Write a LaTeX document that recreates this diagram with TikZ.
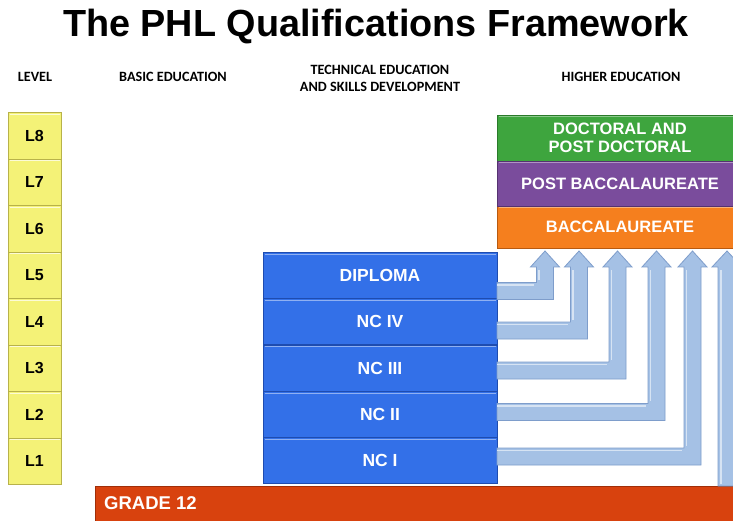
\documentclass[tikz,border=0pt]{standalone}
\usepackage{fontspec}
\setmainfont{Liberation Sans}
\newfontfamily\hdrfont{Carlito}
\usetikzlibrary{calc}
\definecolor{lvlfill}{HTML}{F4F277}
\definecolor{lvldraw}{HTML}{B8B24A}
\definecolor{bluefill}{HTML}{3370E8}
\definecolor{bluedraw}{HTML}{1E4CB0}
\definecolor{greenfill}{HTML}{3EA53E}
\definecolor{greendraw}{HTML}{2A7A2A}
\definecolor{purpfill}{HTML}{7A4C9C}
\definecolor{purpdraw}{HTML}{553270}
\definecolor{orgfill}{HTML}{F57F1E}
\definecolor{orgdraw}{HTML}{B85A10}
\definecolor{redfill}{HTML}{D8420E}
\definecolor{reddraw}{HTML}{A02E08}
\definecolor{arrfill}{HTML}{A5C1E5}
\definecolor{arrdraw}{HTML}{7E9DCB}
\tikzset{
  box/.style={rectangle, inner sep=0pt, outer sep=0pt, line width=0.8pt, font=\bfseries, align=center},
  lvl/.style={box, fill=lvlfill, draw=lvldraw, minimum width=53pt, minimum height=46.5pt, font=\bfseries\fontsize{16}{16}\selectfont},
  tech/.style={box, fill=bluefill, draw=bluedraw, text=white, minimum width=234pt, minimum height=46pt, font=\bfseries\fontsize{17.5}{17.5}\selectfont},
  higher/.style={box, text=white, minimum width=246pt, font=\bfseries\fontsize{16.5}{17.5}\selectfont},
  hdr/.style={font=\hdrfont\bfseries\fontsize{14.2}{17}\selectfont, align=center, inner sep=0pt},
  larrow/.style={fill=arrfill, draw=arrdraw, line width=0.8pt, line join=miter},
  hilite/.style={white!55!arrfill, line width=1.5pt},
}
\newcommand{\larr}[4]{% #1 source node, #2 horizontal centre y, #3 vertical centre x, #4 end node
  \path[larrow] (#1.east |- 0,#2-8.5) -- (#3-8.5,#2-8.5) -- (#3-8.5,267) -- (#3-14.5,267)
     -- ($(#4.south -| #3,0)+(0,3)$) -- (#3+14.5,267) -- (#3+8.5,267) -- (#3+8.5,#2+8.5)
     -- (#1.east |- 0,#2+8.5) -- cycle;
  \draw[hilite] (#1.east |- 0,#2-6) -- (#3-11,#2-6);
  \draw[hilite] (#3-6,#2-11) -- (#3-6,270);
}
\begin{document}
\begin{tikzpicture}[x=1pt,y=-1pt]
\useasboundingbox[fill=white] (0,0) rectangle (733,521);
% title
\node[font=\bfseries\fontsize{37.8}{40}\selectfont, inner sep=0pt] (title) at (376,27) {The PHL Qualifications Framework};
% headers
\node[hdr] (hlevel) at (35,77) {LEVEL};
\node[hdr] (hbasic) at (173,77) {BASIC EDUCATION};
\node[hdr] (htech) at (380,78) {TECHNICAL EDUCATION\\AND SKILLS DEVELOPMENT};
\node[hdr] (hhigher) at (621,77) {HIGHER EDUCATION};
% levels
\foreach \n/\y in {8/135.8,7/182.3,6/228.8,5/275.3,4/321.8,3/368.3,2/414.8,1/461.3}{
  \node[lvl] (L\n) at (34.5,\y) {L\n};
  \draw[white!70!lvlfill, line width=1pt] ($(L\n.north west)+(1.5,1.5)$) -- ($(L\n.north east)+(-1.5,1.5)$);
}
\node[higher, fill=orgfill, draw=orgdraw, minimum height=42pt] (bacc) at (620,227) {BACCALAUREATE};
\node[tech] (dip) at (380,275.5) {DIPLOMA};
\node[tech] (nc4) at (380,321.5) {NC IV};
\node[tech] (nc3) at (380,368) {NC III};
\node[tech] (nc2) at (380,414.5) {NC II};
\node[tech] (nc1) at (380,460.5) {NC I};
\node[box, fill=redfill, draw=reddraw, minimum width=650pt, minimum height=40pt, anchor=north west] (g12) at (95,486) {};
\node[anchor=west, text=white, font=\bfseries\fontsize{18.5}{18.5}\selectfont, inner sep=0pt] (g12t) at (104,503) {GRADE 12};
\larr{dip}{291}{545}{bacc}
\larr{nc4}{330.5}{579}{bacc}
\larr{nc3}{370.5}{617.5}{bacc}
\larr{nc2}{412}{656.5}{bacc}
\larr{nc1}{456.5}{692.5}{bacc}
% arrow from grade 12
\path[larrow] (g12.north -| 718,0) -- (718,267) -- (712,267) -- ($(bacc.south -| 727,0)+(0,3)$) -- (742,267) -- (736,267) -- (g12.north -| 736,0) -- cycle;
\draw[hilite] (721,484) -- (721,270);
% higher education
\node[higher, fill=greenfill, draw=greendraw, minimum height=46pt] (doc) at (620,138) {DOCTORAL AND\\POST DOCTORAL};
\node[higher, fill=purpfill, draw=purpdraw, minimum height=45pt] (post) at (620,183.5) {POST BACCALAUREATE};
% highlights on boxes
\foreach \b in {dip,nc4,nc3,nc2,nc1}{
  \draw[white!45!bluefill, line width=1.2pt] ($(\b.north west)+(1.5,1.8)$) -- ($(\b.north east)+(-1.5,1.8)$);
}
\draw[white!40!greenfill, line width=1.2pt] ($(doc.north west)+(1.5,1.8)$) -- ($(doc.north east)+(-1.5,1.8)$);
\draw[white!40!purpfill, line width=1.2pt] ($(post.north west)+(1.5,1.8)$) -- ($(post.north east)+(-1.5,1.8)$);
\draw[white!40!orgfill, line width=1.2pt] ($(bacc.north west)+(1.5,1.8)$) -- ($(bacc.north east)+(-1.5,1.8)$);
\end{tikzpicture}
\end{document}
